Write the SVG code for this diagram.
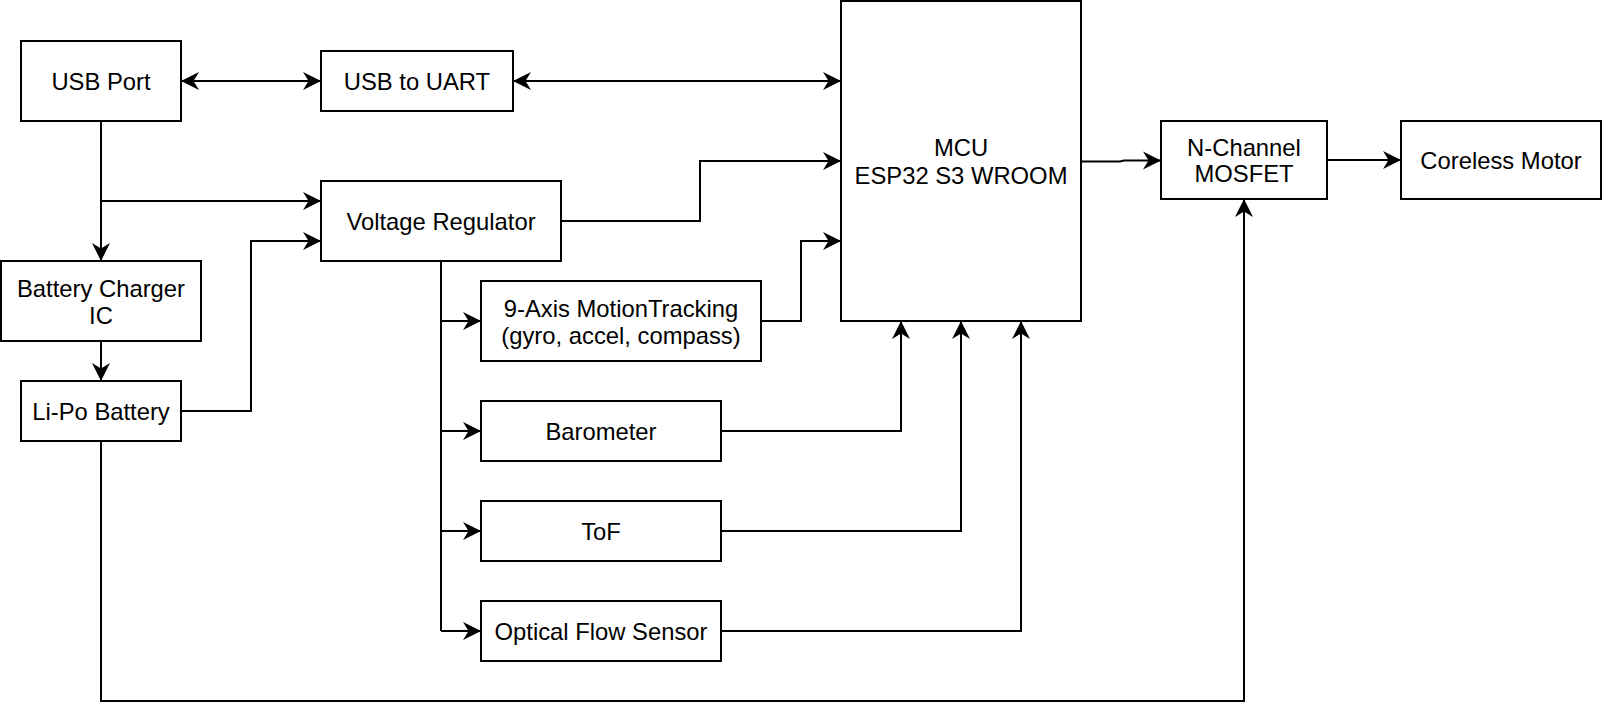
<svg xmlns="http://www.w3.org/2000/svg" width="1602" height="718" viewBox="0 0 1602 718">
<style>
.box{fill:#fff;stroke:#000;stroke-width:2}
.lbl{font-family:"Liberation Sans",Arial,Helvetica,sans-serif;font-size:23.8px;fill:#000;text-anchor:middle}
.wire{fill:none;stroke:#000;stroke-width:2}
</style>
<defs>
<marker id="arr" viewBox="-19 -10 20 20" refX="0" refY="0" markerWidth="20" markerHeight="20" markerUnits="userSpaceOnUse" orient="auto-start-reverse">
<path d="M0,0 L-18,-9 L-12.5,0 L-18,9 Z" fill="#000"/>
</marker>
</defs>
<rect width="1602" height="718" fill="#fff"/>
<g id="connectors">
<path class="wire" d="M181,81 H321" marker-start="url(#arr)" marker-end="url(#arr)"/>
<path class="wire" d="M513,81 H841" marker-start="url(#arr)" marker-end="url(#arr)"/>
<path class="wire" d="M101,121 V261" marker-end="url(#arr)"/>
<path class="wire" d="M101,201 H321" marker-end="url(#arr)"/>
<path class="wire" d="M101,341 V381" marker-end="url(#arr)"/>
<path class="wire" d="M181,411 H251 V241 H321" marker-end="url(#arr)"/>
<path class="wire" d="M561,221 H700 V161 H841" marker-end="url(#arr)"/>
<path class="wire" d="M441,261 V631"/>
<path class="wire" d="M441,321 H481" marker-end="url(#arr)"/>
<path class="wire" d="M441,431 H481" marker-end="url(#arr)"/>
<path class="wire" d="M441,531 H481" marker-end="url(#arr)"/>
<path class="wire" d="M441,631 H481" marker-end="url(#arr)"/>
<path class="wire" d="M761,321 H801 V241 H841" marker-end="url(#arr)"/>
<path class="wire" d="M721,431 H901 V321" marker-end="url(#arr)"/>
<path class="wire" d="M721,531 H961 V321" marker-end="url(#arr)"/>
<path class="wire" d="M721,631 H1021 V321" marker-end="url(#arr)"/>
<path class="wire" d="M1081,161.5 H1120 L1124,160.5 H1161" marker-end="url(#arr)"/>
<path class="wire" d="M1327,160 H1401" marker-end="url(#arr)"/>
<path class="wire" d="M101,441 V701 H1244 V199" marker-end="url(#arr)"/>
</g>
<g id="usb-port"><rect class="box" x="21" y="41" width="160" height="80"/><text class="lbl" x="101" y="90">USB Port</text></g>
<g id="usb-uart"><rect class="box" x="321" y="51" width="192" height="60"/><text class="lbl" x="417" y="90">USB to UART</text></g>
<g id="voltage-regulator"><rect class="box" x="321" y="181" width="240" height="80"/><text class="lbl" x="441" y="230">Voltage Regulator</text></g>
<g id="battery-charger"><rect class="box" x="1" y="261" width="200" height="80"/><text class="lbl" x="101" y="296.5">Battery Charger</text><text class="lbl" x="101" y="324">IC</text></g>
<g id="lipo-battery"><rect class="box" x="21" y="381" width="160" height="60"/><text class="lbl" x="101" y="420">Li-Po Battery</text></g>
<g id="imu"><rect class="box" x="481" y="281" width="280" height="80"/><text class="lbl" x="621" y="316.5">9-Axis MotionTracking</text><text class="lbl" x="621" y="344">(gyro, accel, compass)</text></g>
<g id="barometer"><rect class="box" x="481" y="401" width="240" height="60"/><text class="lbl" x="601" y="440">Barometer</text></g>
<g id="tof"><rect class="box" x="481" y="501" width="240" height="60"/><text class="lbl" x="601" y="540">ToF</text></g>
<g id="optical-flow"><rect class="box" x="481" y="601" width="240" height="60"/><text class="lbl" x="601" y="640">Optical Flow Sensor</text></g>
<g id="mcu"><rect class="box" x="841" y="1" width="240" height="320"/><text class="lbl" x="961" y="156">MCU</text><text class="lbl" x="961" y="183.5">ESP32 S3 WROOM</text></g>
<g id="mosfet"><rect class="box" x="1161" y="121" width="166" height="78"/><text class="lbl" x="1244" y="156">N-Channel</text><text class="lbl" x="1244" y="182">MOSFET</text></g>
<g id="coreless-motor"><rect class="box" x="1401" y="121" width="200" height="78"/><text class="lbl" x="1501" y="168.5">Coreless Motor</text></g>
</svg>
